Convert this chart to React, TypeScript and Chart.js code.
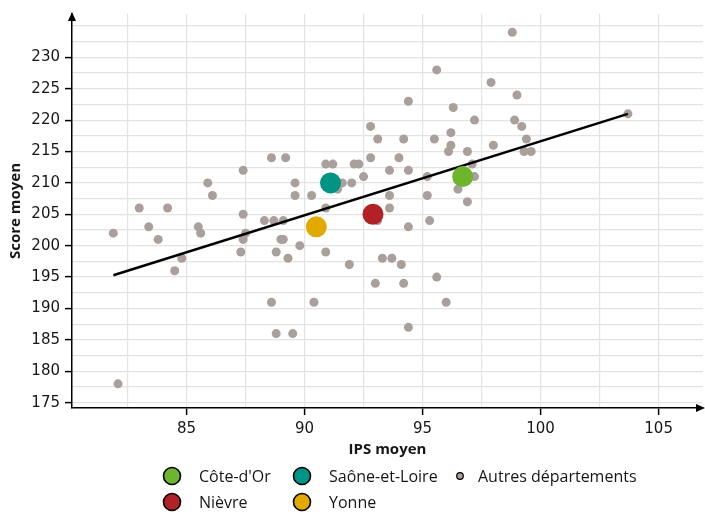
import React, { useEffect, useRef } from "react";
import { Chart, registerables } from "chart.js";

Chart.register(...registerables);

// Autres départements : IPS moyen / Score moyen
const autresIPS = [
  81.9, 82.1, 83.0, 84.2, 83.4, 83.8, 84.8, 84.5, 85.5, 85.6,
  85.9, 86.1, 87.4, 87.4, 87.5, 87.4, 87.3, 88.6, 89.2, 88.3,
  88.7, 89.1, 89.0, 89.1, 88.8, 89.3, 88.6, 88.8, 89.5, 89.6,
  89.6, 89.8, 90.3, 90.9, 91.2, 90.9, 90.9, 90.4, 91.6, 91.4,
  92.0, 92.1, 92.3, 92.5, 91.9, 92.8, 93.1, 92.8, 93.1, 93.0,
  93.3, 93.6, 93.6, 93.6, 93.7, 94.0, 94.2, 94.4, 94.4, 94.4,
  94.1, 94.2, 94.4, 95.2, 95.2, 95.3, 95.5, 95.6, 95.6, 96.0,
  96.1, 96.2, 96.2, 96.3, 96.5, 96.9, 96.9, 97.1, 97.2, 97.2,
  97.9, 98.0, 98.8, 98.9, 99.0, 99.2, 99.4, 99.3, 99.6, 103.7,
];
const autresScore = [
  202, 178, 206, 206, 203, 201, 198, 196, 203, 202,
  210, 208, 212, 205, 202, 201, 199, 214, 214, 204,
  204, 204, 201, 201, 199, 198, 191, 186, 186, 210,
  208, 200, 208, 213, 213, 206, 199, 191, 210, 209,
  210, 213, 213, 211, 197, 219, 217, 214, 204, 194,
  198, 212, 208, 206, 198, 214, 217, 223, 212, 203,
  197, 194, 187, 211, 208, 204, 217, 228, 195, 191,
  215, 216, 218, 222, 209, 215, 207, 213, 211, 220,
  226, 216, 234, 220, 224, 219, 217, 215, 215, 221,
];

// Départements mis en avant
const focusNames = ["Côte-d'Or", "Saône-et-Loire", "Nièvre", "Yonne"];
const focusIPS = [96.7, 91.1, 92.9, 90.5];
const focusScore = [211, 210, 205, 203];
const focusColors = ["#6cb52d", "#009484", "#b22125", "#e2a900"];

// Droite de tendance (extrémités)
const trendIPS = [81.9, 103.7];
const trendScore = [195.3, 221.0];

const autresLabel = "Autres départements";
const xTitle = "IPS moyen";
const yTitle = "Score moyen";

const xGridTicks = [82.5, 85, 87.5, 90, 92.5, 95, 97.5, 100, 102.5, 105];
const xLabelTicks = [85, 90, 95, 100, 105];
const yGridTicks = [175, 177.5, 180, 182.5, 185, 187.5, 190, 192.5, 195, 197.5, 200, 202.5, 205, 207.5, 210, 212.5, 215, 217.5, 220, 222.5, 225, 227.5, 230, 232.5, 235];
const yLabelTicks = [175, 180, 185, 190, 195, 200, 205, 210, 215, 220, 225, 230];

const GRAY = "#aaa09b";
const TICK_FONT = "DejaVu Sans";
const TEXT_FONT = "Open Sans";

const overlayPlugin = {
  id: "overlay",
  afterDraw(chart: any) {
    const ctx = chart.ctx as CanvasRenderingContext2D;
    const a = chart.chartArea;
    ctx.save();
    // arrows
    ctx.fillStyle = "#000";
    ctx.beginPath();
    ctx.moveTo(a.left, a.top - 2);
    ctx.lineTo(a.left - 4, a.top + 7);
    ctx.lineTo(a.left + 4, a.top + 7);
    ctx.closePath();
    ctx.fill();
    ctx.beginPath();
    ctx.moveTo(a.right + 2, a.bottom);
    ctx.lineTo(a.right - 7, a.bottom - 4);
    ctx.lineTo(a.right - 7, a.bottom + 4);
    ctx.closePath();
    ctx.fill();

    // axis titles
    ctx.fillStyle = "#161616";
    ctx.font = `bold 15px "${TEXT_FONT}"`;
    ctx.textAlign = "center";
    ctx.textBaseline = "middle";
    ctx.fillText(xTitle, (a.left + a.right) / 2, 450);
    ctx.save();
    ctx.translate(16, (a.top + a.bottom) / 2);
    ctx.rotate(-Math.PI / 2);
    ctx.fillText(yTitle, 0, 0);
    ctx.restore();

    // legend
    const cols = [172, 302, 460];
    const rows = [476, 502];
    const items: { label: string; color: string; big: boolean; cx: number; cy: number }[] = [
      { label: focusNames[0], color: focusColors[0], big: true, cx: cols[0], cy: rows[0] },
      { label: focusNames[1], color: focusColors[1], big: true, cx: cols[1], cy: rows[0] },
      { label: autresLabel, color: GRAY, big: false, cx: cols[2], cy: rows[0] },
      { label: focusNames[2], color: focusColors[2], big: true, cx: cols[0], cy: rows[1] },
      { label: focusNames[3], color: focusColors[3], big: true, cx: cols[1], cy: rows[1] },
    ];
    ctx.font = `16px "${TEXT_FONT}"`;
    ctx.textAlign = "left";
    for (const it of items) {
      ctx.beginPath();
      ctx.arc(it.cx, it.cy, it.big ? 8.5 : 3.3, 0, Math.PI * 2);
      ctx.fillStyle = it.color;
      ctx.fill();
      ctx.lineWidth = it.big ? 1.6 : 1.2;
      ctx.strokeStyle = "#000";
      ctx.stroke();
      ctx.fillStyle = "#161616";
      ctx.fillText(it.label, it.big ? it.cx + 27 : it.cx + 18, it.cy + 1);
    }
    ctx.restore();
  },
};

export default function App() {
  const ref = useRef<HTMLCanvasElement | null>(null);

  useEffect(() => {
    if (!ref.current) return;
    const autres = autresIPS.map((x, i) => ({ x, y: autresScore[i] }));
    const focusSets = focusNames.map((name, i) => ({
      type: "scatter" as const,
      label: name,
      data: [{ x: focusIPS[i], y: focusScore[i] }],
      backgroundColor: focusColors[i],
      borderWidth: 0,
      pointRadius: 10.5,
      pointHoverRadius: 10.5,
      order: 0,
    }));
    const chart = new Chart(ref.current, {
      type: "scatter",
      data: {
        datasets: [
          ...focusSets,
          {
            type: "line",
            label: "Tendance",
            data: trendIPS.map((x, i) => ({ x, y: trendScore[i] })),
            borderColor: "#000",
            borderWidth: 2.5,
            pointRadius: 0,
            fill: false,
            order: 1,
          } as any,
          {
            type: "scatter",
            label: autresLabel,
            data: autres,
            backgroundColor: GRAY,
            borderWidth: 0,
            pointRadius: 4.5,
            order: 2,
          },
        ],
      },
      options: {
        responsive: false,
        maintainAspectRatio: false,
        animation: false,
        layout: { autoPadding: false, padding: { top: 10, right: 2, left: 0, bottom: 0 } },
        plugins: { legend: { display: false }, tooltip: { enabled: false } },
        scales: {
          x: {
            type: "linear",
            min: 80.15,
            max: 106.88,
            afterBuildTicks: (s: any) => {
              s.ticks = xGridTicks.map((v) => ({ value: v }));
            },
            afterFit: (s: any) => {
              s.height = 106;
            },
            grid: {
              color: "#e3e3e3",
              lineWidth: 1.2,
              tickLength: 7,
              tickColor: (c: any) => (xLabelTicks.includes(c.tick?.value) ? "#000" : "rgba(0,0,0,0)"),
              tickWidth: 1.5,
            },
            border: { display: true, color: "#000", width: 1.5 },
            ticks: {
              autoSkip: false,
              maxRotation: 0,
              padding: 5,
              color: "#161616",
              font: { family: TICK_FONT, size: 15 },
              callback: (v: any) => (xLabelTicks.includes(Number(v)) ? String(v) : ""),
            },
          },
          y: {
            type: "linear",
            min: 174.15,
            max: 236.9,
            afterBuildTicks: (s: any) => {
              s.ticks = yGridTicks.map((v) => ({ value: v }));
            },
            afterFit: (s: any) => {
              s.width = 72;
            },
            grid: {
              color: "#e3e3e3",
              lineWidth: 1.2,
              tickLength: 7,
              tickColor: (c: any) => (yLabelTicks.includes(c.tick?.value) ? "#000" : "rgba(0,0,0,0)"),
              tickWidth: 1.5,
            },
            border: { display: true, color: "#000", width: 1.5 },
            ticks: {
              autoSkip: false,
              padding: 5,
              color: "#161616",
              font: { family: TICK_FONT, size: 15 },
              callback: (v: any) => (yLabelTicks.includes(Number(v)) ? String(v) : ""),
            },
          },
        },
      },
      plugins: [overlayPlugin],
    });
    return () => chart.destroy();
  }, []);

  return (
    <div style={{ position: "absolute", left: 0, top: 0, width: 705, height: 514, background: "#fff" }}>
      <canvas ref={ref} width={705} height={514} style={{ width: 705, height: 514, display: "block" }} />
    </div>
  );
}
